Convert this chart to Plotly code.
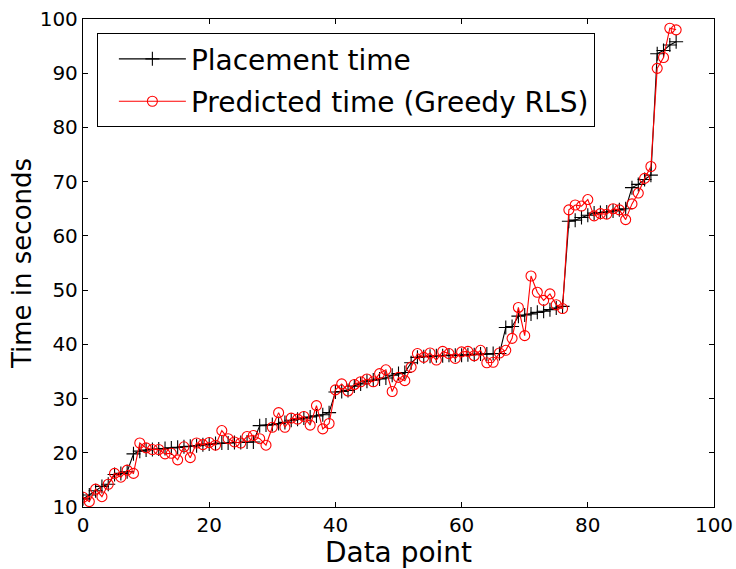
import plotly.graph_objects as go

x_points = list(range(95))

placement_time = [
    11.5, 12.2, 13.0, 13.8, 14.2, 16.0, 16.2, 16.5, 19.8, 20.3,
    20.5, 20.6, 20.7, 20.8, 20.9, 21.0, 21.1, 21.2, 21.3, 21.5,
    21.6, 21.7, 21.8, 21.8, 21.9, 21.9, 22.0, 22.0, 25.0, 25.1,
    25.2, 25.4, 25.6, 26.0, 26.2, 26.4, 26.6, 26.8, 27.0, 27.4,
    31.2, 31.3, 31.5, 32.3, 32.7, 33.2, 33.4, 33.6, 33.8, 34.3,
    34.6, 34.8, 36.6, 37.6, 37.7, 37.8, 37.9, 37.9, 38.0, 38.0,
    38.0, 38.1, 38.1, 38.2, 38.2, 38.3, 38.3, 43.1, 43.3, 45.2,
    45.4, 45.6, 45.9, 46.1, 46.4, 46.7, 47.0, 62.7, 62.9, 63.4,
    63.8, 64.2, 64.3, 64.4, 64.6, 64.8, 65.0, 68.9, 69.5, 70.4,
    71.2, 93.6, 94.2, 95.2, 95.8,
]

predicted_time = [
    11.8, 11.0, 13.3, 11.9, 14.2, 16.2, 15.5, 16.8, 16.2, 21.8,
    20.9, 20.6, 20.6, 19.8, 19.9, 18.7, 21.1, 19.1, 21.8, 21.5,
    21.9, 21.4, 24.1, 22.6, 22.0, 21.8, 23.0, 23.2, 22.6, 21.4,
    24.7, 27.4, 24.7, 26.4, 26.2, 26.7, 25.1, 28.7, 24.4, 25.4,
    31.6, 32.7, 31.4, 32.6, 33.1, 33.6, 33.1, 34.6, 35.3, 31.3,
    33.9, 33.3, 35.8, 38.3, 37.6, 38.4, 37.1, 38.7, 38.3, 37.4,
    38.6, 38.7, 37.9, 38.9, 36.6, 36.7, 38.4, 38.9, 41.1, 46.8,
    41.6, 52.6, 49.6, 48.1, 49.3, 47.3, 46.6, 64.8, 65.7, 65.5,
    66.7, 63.7, 64.1, 64.0, 65.0, 64.8, 63.0, 65.9, 67.9, 70.6,
    72.8, 90.9, 92.9, 98.3, 98.0,
]

x_ticks = [0, 20, 40, 60, 80, 100]
y_ticks = [10, 20, 30, 40, 50, 60, 70, 80, 90, 100]

FONT = "DejaVu Sans"

fig = go.Figure()
fig.add_trace(go.Scatter(
    x=x_points, y=placement_time, mode="lines+markers",
    name="Placement time", legendgroup="a",
    line=dict(color="black", width=1.1),
    marker=dict(symbol="cross-thin-open", size=10, color="black",
                line=dict(color="black", width=1.1)),
))
fig.add_trace(go.Scatter(
    x=x_points, y=predicted_time, mode="lines+markers",
    name="Predicted time (Greedy RLS)", legendgroup="b",
    line=dict(color="red", width=1.1),
    marker=dict(symbol="circle-open", size=10, color="red",
                line=dict(color="red", width=1.1)),
))

axis_common = dict(
    showgrid=False, zeroline=False, showline=True, linecolor="black",
    linewidth=1.3, mirror="ticks", ticks="inside", ticklen=5,
    tickcolor="black", tickwidth=1, automargin=False,
    tickfont=dict(family=FONT, size=20, color="black"),
)

fig.update_layout(
    width=736, height=569,
    margin=dict(l=83, r=22, t=19, b=62),
    paper_bgcolor="white", plot_bgcolor="white",
    font=dict(family=FONT, color="black"),
    showlegend=True,
    legend=dict(
        x=0.022, y=0.971, xanchor="left", yanchor="top",
        bordercolor="black", borderwidth=1, bgcolor="white",
        font=dict(family=FONT, size=28, color="black"),
        itemwidth=67, indentation=16, tracegroupgap=3,
    ),
    xaxis=dict(
        range=[0, 100], tickvals=x_ticks,
        title=dict(text="Data point", font=dict(family=FONT, size=28), standoff=2),
        **axis_common,
    ),
    yaxis=dict(
        range=[10, 100], tickvals=y_ticks,
        title=dict(text="Time in seconds", font=dict(family=FONT, size=26), standoff=0),
        **axis_common,
    ),
)

fig.write_html("out.html")
